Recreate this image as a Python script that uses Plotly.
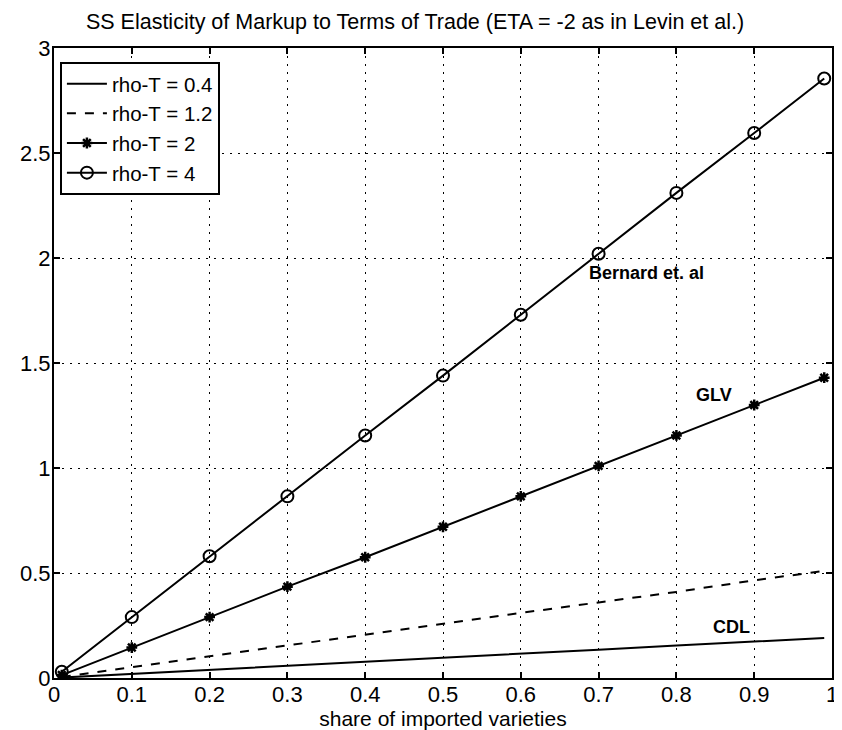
import plotly.graph_objects as go

x_share = [0.01, 0.1, 0.2, 0.3, 0.4, 0.5, 0.6, 0.7, 0.8, 0.9, 0.99]
rho_04 = [0.002, 0.019, 0.039, 0.058, 0.077, 0.097, 0.116, 0.135, 0.155, 0.174, 0.19]
rho_12 = [0.005, 0.052, 0.103, 0.155, 0.206, 0.258, 0.31, 0.36, 0.41, 0.465, 0.51]
rho_2 = [0.014, 0.145, 0.29, 0.435, 0.575, 0.72, 0.865, 1.01, 1.155, 1.30, 1.43]
rho_4 = [0.03, 0.29, 0.58, 0.865, 1.155, 1.44, 1.73, 2.02, 2.31, 2.595, 2.855]

x_ticks = [0, 0.1, 0.2, 0.3, 0.4, 0.5, 0.6, 0.7, 0.8, 0.9, 1]
x_labels = ["0", "0.1", "0.2", "0.3", "0.4", "0.5", "0.6", "0.7", "0.8", "0.9", "1"]
y_ticks = [0, 0.5, 1, 1.5, 2, 2.5, 3]
y_labels = ["0", "0.5", "1", "1.5", "2", "2.5", "3"]

labels = [("Bernard et. al", 0.761, 1.93), ("GLV", 0.848, 1.348), ("CDL", 0.871, 0.243)]

FONT = "Liberation Sans, Arial, sans-serif"

fig = go.Figure()
fig.add_trace(go.Scatter(x=x_share, y=rho_04, mode="lines", name="rho-T = 0.4",
                         line=dict(color="black", width=2)))
fig.add_trace(go.Scatter(x=x_share, y=rho_12, mode="lines", name="rho-T = 1.2",
                         line=dict(color="black", width=2, dash="dash")))
fig.add_trace(go.Scatter(x=x_share, y=rho_2, mode="lines+markers", name="rho-T = 2",
                         line=dict(color="black", width=2),
                         marker=dict(symbol="asterisk-open", size=9, color="black",
                                     line=dict(color="black", width=2.5))))
fig.add_trace(go.Scatter(x=x_share, y=rho_4, mode="lines+markers", name="rho-T = 4",
                         line=dict(color="black", width=2),
                         marker=dict(symbol="circle-open", size=12, color="black",
                                     line=dict(color="black", width=2))))

for txt, lx, ly in labels:
    fig.add_annotation(x=lx, y=ly, text="<b>%s</b>" % txt, showarrow=False,
                       font=dict(family=FONT, size=18, color="black"))

axis_common = dict(showline=True, linecolor="black", linewidth=2, mirror="ticks",
                   ticks="inside", ticklen=6, tickwidth=1.5, tickcolor="black",
                   showgrid=True, gridcolor="black", griddash="2px,6px", gridwidth=1,
                   zeroline=False, ticklabeloverflow="allow",
                   tickfont=dict(family=FONT, size=22, color="black"))

fig.update_xaxes(range=[0, 1], tickvals=x_ticks, ticktext=x_labels, ticklabelstandoff=-4,
                 title=dict(text="share of imported varieties", standoff=0,
                            font=dict(family=FONT, size=21, color="black")),
                 **axis_common)
fig.update_yaxes(range=[0, 3], tickvals=y_ticks, ticktext=y_labels, ticklabelstandoff=-3,
                 **axis_common)

# the page places the figure 8px from the top-left corner; margins compensate
fig.update_layout(
    width=842, height=730,
    margin=dict(l=39, r=13, t=40, b=60),
    paper_bgcolor="white", plot_bgcolor="white",
    title=dict(text="SS Elasticity of Markup to Terms of Trade (ETA = -2 as in Levin et al.)",
               x=0.4834, xanchor="center", y=0.982, yanchor="middle",
               font=dict(family=FONT, size=21.5, color="black")),
    legend=dict(x=0.0076, y=0.978, xanchor="left", yanchor="top",
                bgcolor="white", bordercolor="black", borderwidth=2,
                font=dict(family=FONT, size=20.5, color="black"),
                tracegroupgap=0, itemwidth=40),
    showlegend=True,
)

fig.write_html("out.html")
